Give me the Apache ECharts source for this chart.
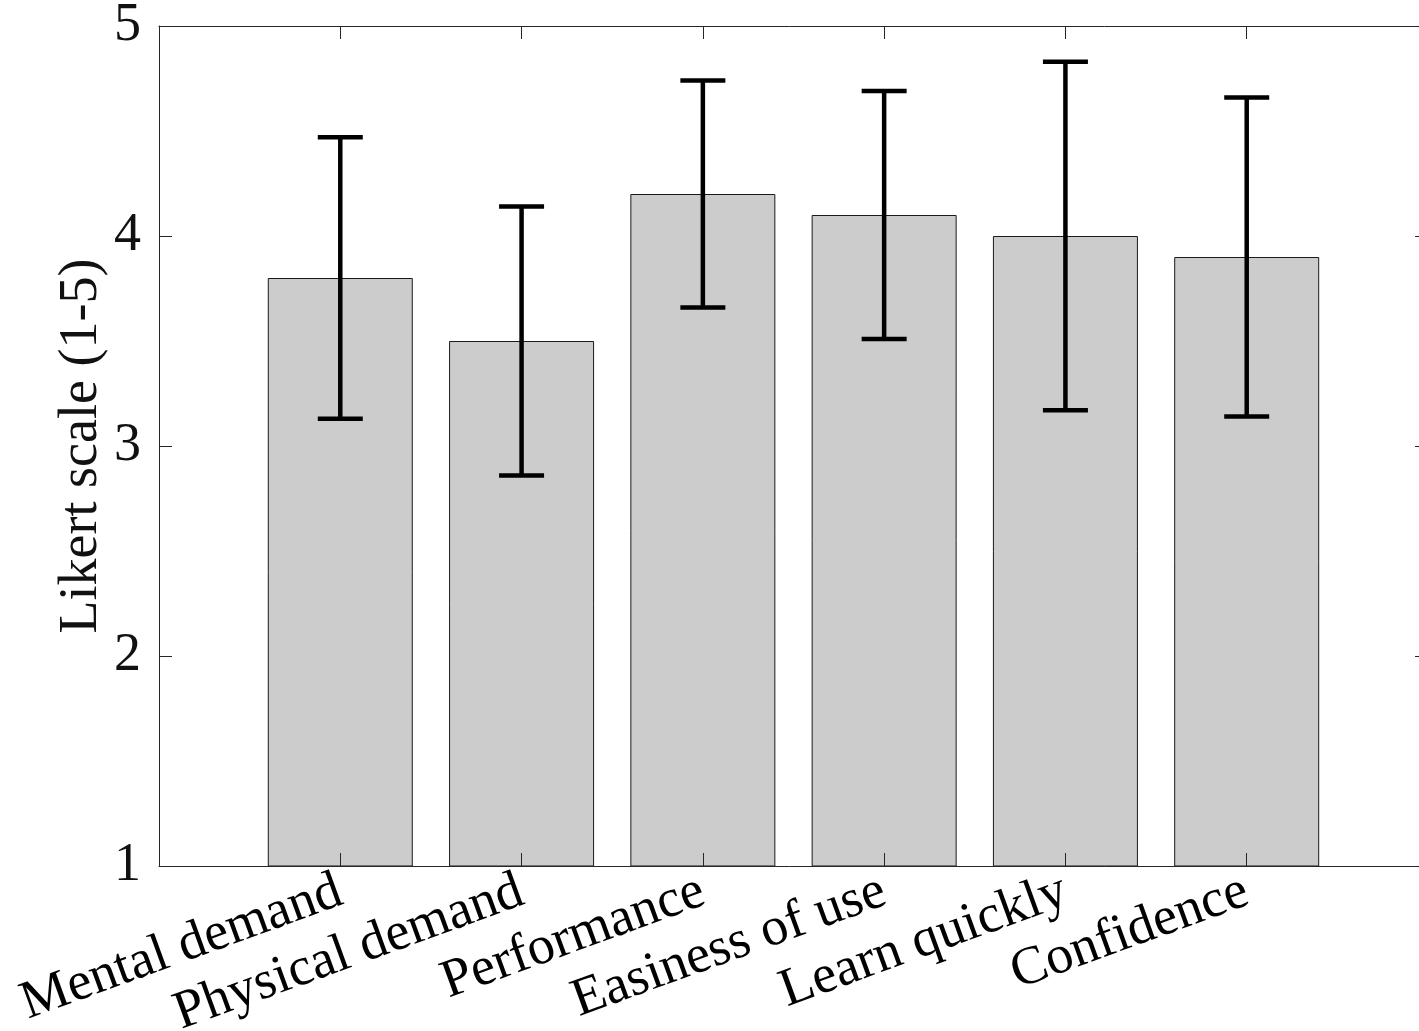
<!DOCTYPE html>
<html>
<head>
<meta charset="utf-8">
<script src="https://cdn.jsdelivr.net/npm/echarts@6/dist/echarts.min.js"></script>
<style>
  html, body { margin: 0; padding: 0; background: #ffffff; }
  #chart { width: 1419px; height: 1031px; }
</style>
</head>
<body>
<div id="chart"></div>
<script>
// Survey ratings: mean score per item with its spread (error bar half-length)
const categories = ['Mental demand', 'Physical demand', 'Performance', 'Easiness of use', 'Learn quickly', 'Confidence'];
const means = [3.8, 3.5, 4.2, 4.1, 4.0, 3.9];
const errors = [0.67, 0.64, 0.54, 0.59, 0.83, 0.76];
const yTickValues = [1, 2, 3, 4, 5];

const FONT = '"Liberation Serif", "Times New Roman", serif';
const AXIS_COLOR = '#262626';
const TEXT_COLOR = '#111111';

// bars sit at x = 1..n on a numeric axis running from 0 to n+1
const positions = categories.map((_, i) => i + 1);
const barData = means.map((m, i) => [positions[i], m]);
const errData = means.map((m, i) => [positions[i], m - errors[i], m + errors[i]]);

const chart = echarts.init(document.getElementById('chart'), null, { renderer: 'canvas' });

const frameAxisX = (pos, showLabels) => ({
  type: 'value',
  position: pos,
  min: 0,
  max: categories.length + 1,
  interval: 1,
  z: 5,
  axisLine: { show: true, onZero: false, lineStyle: { color: AXIS_COLOR, width: 1 } },
  axisTick: { show: true, inside: true, length: 13, lineStyle: { color: AXIS_COLOR, width: 1 } },
  splitLine: { show: false },
  axisLabel: showLabels ? {
    show: true,
    rotate: 20,
    margin: 24,
    fontSize: 54,
    fontFamily: FONT,
    color: '#000000',
    formatter: (v) => categories[Math.round(v) - 1] || ''
  } : { show: false }
});

const frameAxisY = (pos, showLabels) => ({
  type: 'value',
  position: pos,
  min: yTickValues[0],
  max: yTickValues[yTickValues.length - 1],
  interval: 1,
  z: 5,
  axisLine: { show: true, onZero: false, lineStyle: { color: AXIS_COLOR, width: 1 } },
  axisTick: { show: true, inside: true, length: 13, lineStyle: { color: AXIS_COLOR, width: 1 } },
  splitLine: { show: false },
  axisLabel: showLabels ? {
    show: true,
    margin: 18,
    fontSize: 54,
    fontFamily: FONT,
    color: TEXT_COLOR
  } : { show: false }
});

const yLeft = frameAxisY('left', true);
yLeft.name = 'Likert scale (1-5)';
yLeft.nameLocation = 'middle';
yLeft.nameGap = 50;
yLeft.nameMoveOverlap = false;
yLeft.nameTextStyle = { fontSize: 54, fontFamily: FONT, color: TEXT_COLOR };

chart.setOption({
  animation: false,
  backgroundColor: '#ffffff',
  grid: {
    left: 159,
    top: 26,
    width: 1269,
    height: 840,
    containLabel: false,
    outerBoundsMode: 'none'
  },
  xAxis: [frameAxisX('bottom', true), frameAxisX('top', false)],
  yAxis: [yLeft, frameAxisY('right', false)],
  series: [
    {
      type: 'bar',
      xAxisIndex: 0,
      yAxisIndex: 0,
      data: barData,
      barWidth: 145,
      clip: true,
      itemStyle: { color: '#cccccc', borderColor: '#1a1a1a', borderWidth: 1 },
      z: 2
    },
    {
      type: 'custom',
      xAxisIndex: 0,
      yAxisIndex: 0,
      data: errData,
      encode: { x: 0, y: [1, 2] },
      z: 10,
      renderItem: function (params, api) {
        const x = api.value(0);
        const lo = api.coord([x, api.value(1)]);
        const hi = api.coord([x, api.value(2)]);
        const half = 22.5;
        const style = { stroke: '#000000', lineWidth: 4.5 };
        return {
          type: 'group',
          children: [
            { type: 'line', shape: { x1: lo[0], y1: lo[1], x2: hi[0], y2: hi[1] }, style: style },
            { type: 'line', shape: { x1: lo[0] - half, y1: lo[1], x2: lo[0] + half, y2: lo[1] }, style: style },
            { type: 'line', shape: { x1: hi[0] - half, y1: hi[1], x2: hi[0] + half, y2: hi[1] }, style: style }
          ]
        };
      }
    }
  ]
});
</script>
</body>
</html>
